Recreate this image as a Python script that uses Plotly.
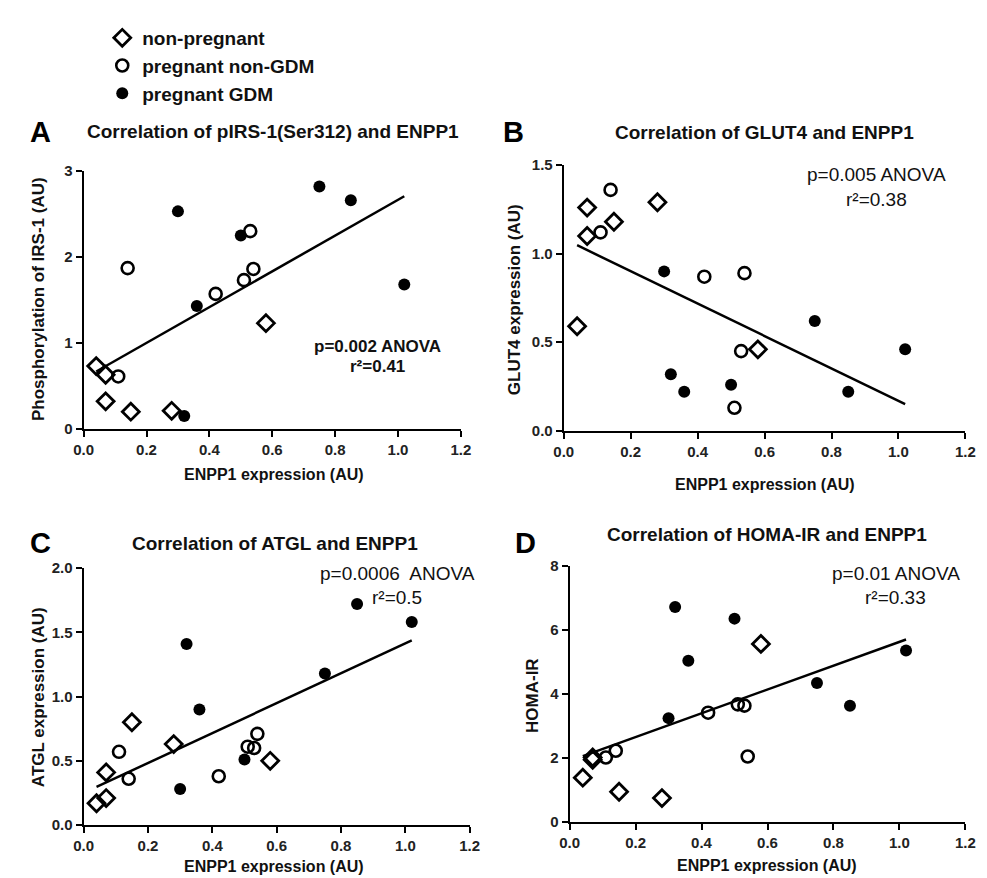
import numpy as np
import plotly.graph_objects as go

# ---------------- data ----------------
groups = ["non-pregnant", "pregnant non-GDM", "pregnant GDM"]
enpp1_np = [0.04, 0.07, 0.07, 0.15, 0.28, 0.58]
enpp1_pn = [0.11, 0.14, 0.42, 0.51, 0.53, 0.54]
enpp1_gdm = [0.30, 0.32, 0.36, 0.50, 0.75, 0.85, 1.02]

pirs1_np = [0.73, 0.63, 0.32, 0.20, 0.21, 1.23]
pirs1_pn = [0.61, 1.87, 1.57, 1.73, 2.30, 1.86]
pirs1_gdm = [2.53, 0.15, 1.43, 2.25, 2.82, 2.66, 1.68]

glut4_np = [0.59, 1.26, 1.10, 1.18, 1.29, 0.46]
glut4_pn = [1.12, 1.36, 0.87, 0.13, 0.45, 0.89]
glut4_gdm = [0.90, 0.32, 0.22, 0.26, 0.62, 0.22, 0.46]

atgl_np = [0.17, 0.41, 0.21, 0.80, 0.63, 0.50]
atgl_pn = [0.57, 0.36, 0.38, 0.61, 0.60, 0.71]
atgl_gdm = [0.28, 1.41, 0.90, 0.51, 1.18, 1.72, 1.58]

homa_np = [1.39, 1.95, 2.02, 0.95, 0.75, 5.57]
homa_pn = [2.02, 2.23, 3.42, 3.68, 3.64, 2.05]
homa_gdm = [3.25, 6.72, 5.04, 6.36, 4.35, 3.64, 5.36]

panel_letters = ["A", "B", "C", "D"]
panel_titles = ["Correlation of pIRS-1(Ser312) and ENPP1",
                "Correlation of GLUT4 and ENPP1",
                "Correlation of ATGL and ENPP1",
                "Correlation of HOMA-IR and ENPP1"]
y_titles = ["Phosphorylation of IRS-1 (AU)", "GLUT4 expression (AU)",
            "ATGL expression (AU)", "HOMA-IR"]
x_title = "ENPP1 expression (AU)"
stats_p = ["p=0.002 ANOVA", "p=0.005 ANOVA", "p=0.0006  ANOVA", "p=0.01 ANOVA"]
stats_r2 = ["r²=0.41", "r²=0.38", "r²=0.5", "r²=0.33"]
y_ranges = [(0, 3), (0, 1.5), (0, 2.0), (0, 8)]
y_dticks = [1, 0.5, 0.5, 2]
y_formats = ["d", ".1f", ".1f", "d"]
x_ticks = [0.0, 0.2, 0.4, 0.6, 0.8, 1.0, 1.2]

panels_y = [(pirs1_np, pirs1_pn, pirs1_gdm), (glut4_np, glut4_pn, glut4_gdm),
            (atgl_np, atgl_pn, atgl_gdm), (homa_np, homa_pn, homa_gdm)]

# ---------------- layout geometry (pixels) ----------------
W, H = 987, 878
axes_px = [  # x0, x1, ytop, ybottom
    (67, 452, 157, 420),
    (557, 967, 151, 422),
    (67, 461, 562, 824),
    (563, 967, 560, 821),
]

FONT = "Liberation Sans, Arial, Helvetica, sans-serif"

fig = go.Figure()

marker_styles = [
    dict(symbol="diamond-open", size=13, color="black", line=dict(width=2.8, color="black")),
    dict(symbol="circle-open", size=12, color="black", line=dict(width=2.6, color="black")),
    dict(symbol="circle", size=12, color="black", line=dict(width=0, color="black")),
]
xs_groups = [enpp1_np, enpp1_pn, enpp1_gdm]

for i in range(4):
    xa = "x" if i == 0 else f"x{i+1}"
    ya = "y" if i == 0 else f"y{i+1}"
    # least-squares regression line over all points
    allx = np.array(enpp1_np + enpp1_pn + enpp1_gdm)
    ally = np.array(list(panels_y[i][0]) + list(panels_y[i][1]) + list(panels_y[i][2]))
    slope, intercept = np.polyfit(allx, ally, 1)
    lx = np.array([allx.min(), allx.max()])
    fig.add_trace(go.Scatter(x=lx, y=intercept + slope * lx, mode="lines",
                             line=dict(color="black", width=2.5),
                             xaxis=xa, yaxis=ya, showlegend=False,
                             hoverinfo="skip", cliponaxis=False))
    for g in range(3):
        fig.add_trace(go.Scatter(x=xs_groups[g], y=panels_y[i][g], mode="markers",
                                 marker=marker_styles[g], name=groups[g],
                                 xaxis=xa, yaxis=ya, showlegend=(i == 0),
                                 cliponaxis=False))

axis_common = dict(showline=True, linecolor="black", linewidth=2, ticks="outside",
                   ticklen=6, tickwidth=2, tickcolor="black", showgrid=False,
                   zeroline=False,
                   tickfont=dict(family=FONT, size=15, color="#222", weight="bold"))

layout = dict(width=W, height=H, margin=dict(l=0, r=0, t=0, b=0),
              paper_bgcolor="white", plot_bgcolor="white",
              font=dict(family=FONT, color="black", size=15))

annotations = []
for i in range(4):
    x0, x1, yt, yb = axes_px[i]
    xk = "xaxis" if i == 0 else f"xaxis{i+1}"
    yk = "yaxis" if i == 0 else f"yaxis{i+1}"
    layout[xk] = dict(axis_common, domain=[x0 / W, x1 / W], range=[0, 1.2],
                      tickvals=x_ticks, tickformat=".1f",
                      anchor="y" if i == 0 else f"y{i+1}")
    layout[yk] = dict(axis_common, domain=[1 - yb / H, 1 - yt / H],
                      range=list(y_ranges[i]), dtick=y_dticks[i], tick0=0,
                      tickformat=y_formats[i],
                      anchor="x" if i == 0 else f"x{i+1}")

# text positions (pixels)
letter_pos = [(23, 117), (506, 117), (23, 536), (518, 536)]
title_pos = [(260, 117), (762, 118), (262, 537), (764, 528)]
xtitle_pos = [(261, 467), (762, 477), (261, 866), (765, 865)]
ytitle_pos = [(21, 288), (507, 288), (21, 694), (525, 692)]
stat_pos = [(367, 336), (876, 161), (387, 567), (896, 567)]
stat_gap = [20, 25, 25, 25]
stat_bold = [True, False, False, False]
stat_size = [17, 19, 19, 19]

for i in range(4):
    lx_, ly_ = letter_pos[i]
    annotations.append(dict(text=panel_letters[i], x=lx_ / W, y=1 - ly_ / H, xref="paper", yref="paper",
                            showarrow=False, xanchor="center", yanchor="middle",
                            font=dict(family=FONT, size=29, color="black", weight="bold")))
    tx, ty = title_pos[i]
    annotations.append(dict(text=panel_titles[i], x=tx / W, y=1 - ty / H, xref="paper", yref="paper",
                            showarrow=False, xanchor="center", yanchor="middle",
                            font=dict(family=FONT, size=19, color="#111", weight="bold")))
    xx, xy = xtitle_pos[i]
    annotations.append(dict(text=x_title, x=xx / W, y=1 - xy / H, xref="paper", yref="paper",
                            showarrow=False, xanchor="center", yanchor="middle",
                            font=dict(family=FONT, size=16, color="#111", weight="bold")))
    yx, yy = ytitle_pos[i]
    annotations.append(dict(text=y_titles[i], x=yx / W, y=1 - yy / H, xref="paper", yref="paper",
                            showarrow=False, xanchor="center", yanchor="middle", textangle=-90,
                            font=dict(family=FONT, size=17, color="#111", weight="bold")))
    sx, sy = stat_pos[i]
    sf = dict(family=FONT, size=stat_size[i], color="#111", weight="bold" if stat_bold[i] else "normal")
    annotations.append(dict(text=stats_p[i], x=sx / W, y=1 - sy / H, xref="paper", yref="paper",
                            showarrow=False, xanchor="center", yanchor="middle", font=sf))
    annotations.append(dict(text=stats_r2[i], x=sx / W, y=1 - (sy + stat_gap[i]) / H,
                            xref="paper", yref="paper",
                            showarrow=False, xanchor="center", yanchor="middle", font=sf))

layout["annotations"] = annotations
layout["showlegend"] = True
layout["legend"] = dict(x=86 / W, y=1 - 2 / H, xanchor="left", yanchor="top",
                        bgcolor="rgba(0,0,0,0)", itemwidth=30,
                        font=dict(family=FONT, size=19, color="#111", weight="bold"),
                        tracegroupgap=0)

fig.update_layout(**layout)
fig.write_html("out.html")
